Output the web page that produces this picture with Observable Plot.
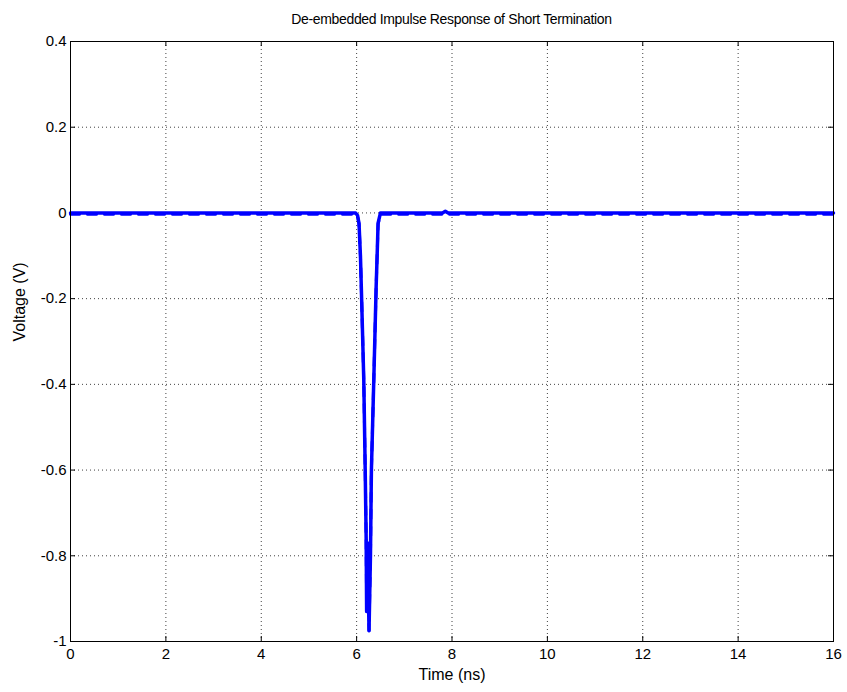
<!DOCTYPE html>
<html><head><meta charset="utf-8">
<script src="https://cdn.jsdelivr.net/npm/d3@7"></script>
<script src="https://cdn.jsdelivr.net/npm/@observablehq/plot@0.6"></script>
<style>
body{margin:0;background:#fff;}
#title{box-sizing:border-box;height:30px;width:847px;padding-left:70px;padding-right:14px;padding-top:11px;text-align:center;font:14px "Liberation Sans",Arial,sans-serif;letter-spacing:-0.35px;line-height:17px;color:#000;}
</style></head><body>
<div id="title">De-embedded Impulse Response of Short Termination</div>
<div id="chart"></div>
<script>
// Solid trace
const timeNs = [0, 1, 2, 3, 4, 5, 5.9, 5.98, 6.02, 6.05, 6.08, 6.10, 6.15, 6.18, 6.20, 6.21, 6.23, 6.26, 6.29, 6.31, 6.36, 6.41, 6.43, 6.45, 6.50, 7, 7.8, 7.86, 7.92, 9, 10, 11, 12, 13, 14, 15, 16];
const voltSolid = [0, 0, 0, 0, 0, 0, 0, 0, -0.006, -0.024, -0.1, -0.18, -0.39, -0.6, -0.76, -0.93, -0.77, -0.975, -0.8, -0.6, -0.39, -0.17, -0.1, -0.024, 0, 0, 0, 0.004, 0, 0, 0, 0, 0, 0, 0, 0, 0];
// Dashed trace (overlapping, slightly below)
const voltDashed = [-0.003, -0.003, -0.003, -0.003, -0.003, -0.003, -0.003, -0.003, -0.008, -0.026, -0.1, -0.18, -0.39, -0.6, -0.76, -0.93, -0.77, -0.975, -0.8, -0.6, -0.39, -0.17, -0.1, -0.026, -0.003, -0.003, -0.003, -0.002, -0.003, -0.003, -0.003, -0.003, -0.003, -0.003, -0.003, -0.003, -0.003];
const xTicks = [0, 2, 4, 6, 8, 10, 12, 14, 16];
const yTicks = [-1, -0.8, -0.6, -0.4, -0.2, 0, 0.2, 0.4];
const xLabel = "Time (ns)";
const yLabel = "Voltage (V)";

const solid = timeNs.map((t, i) => ({t, v: voltSolid[i]}));
const dashed = timeNs.map((t, i) => ({t, v: voltDashed[i]}));
const innerX = xTicks.slice(1, -1);
const innerY = yTicks.slice(1, -1);
const W = 847, H = 662, mL = 70, mR = 14, mT = 11, mB = 51;
const iw = W - mL - mR, ih = H - mT - mB, tk = 5;

const chart = Plot.plot({
  width: W, height: H, marginLeft: mL, marginRight: mR, marginTop: mT, marginBottom: mB,
  style: {fontFamily: '"Liberation Sans", Arial, sans-serif', fontSize: "15px", background: "#fff", color: "#000"},
  x: {domain: [0, 16], label: null},
  y: {domain: [-1, 0.4], label: null},
  marks: [
    Plot.gridX(innerX, {stroke: "#000", strokeOpacity: 0.75, strokeDasharray: "1,3"}),
    Plot.gridY(innerY, {stroke: "#000", strokeOpacity: 0.75, strokeDasharray: "1,3"}),
    Plot.ruleX(innerX, {insetTop: ih - tk, stroke: "#000"}),
    Plot.ruleX(innerX, {insetBottom: ih - tk, stroke: "#000"}),
    Plot.ruleY(innerY, {insetRight: iw - tk, stroke: "#000"}),
    Plot.ruleY(innerY, {insetLeft: iw - tk, stroke: "#000"}),
    Plot.line(dashed, {x: "t", y: "v", stroke: "#0000ff", strokeWidth: 3, strokeDasharray: "9,8"}),
    Plot.line(solid, {x: "t", y: "v", stroke: "#0000ff", strokeWidth: 3.5}),
    Plot.frame({stroke: "#000"}),
    Plot.axisX(xTicks, {tickSize: 0, tickPadding: 7, fontSize: 15, tickFormat: d => String(d), label: null}),
    Plot.axisY(yTicks, {tickSize: 0, tickPadding: 4, fontSize: 15, tickFormat: d => String(d), label: null}),
    Plot.text([xLabel], {frameAnchor: "bottom", dy: 38, fontSize: 16}),
    Plot.text([yLabel], {frameAnchor: "left", dx: -51, rotate: -90, fontSize: 16})
  ]
});
document.getElementById("chart").appendChild(chart);
</script>
</body></html>
